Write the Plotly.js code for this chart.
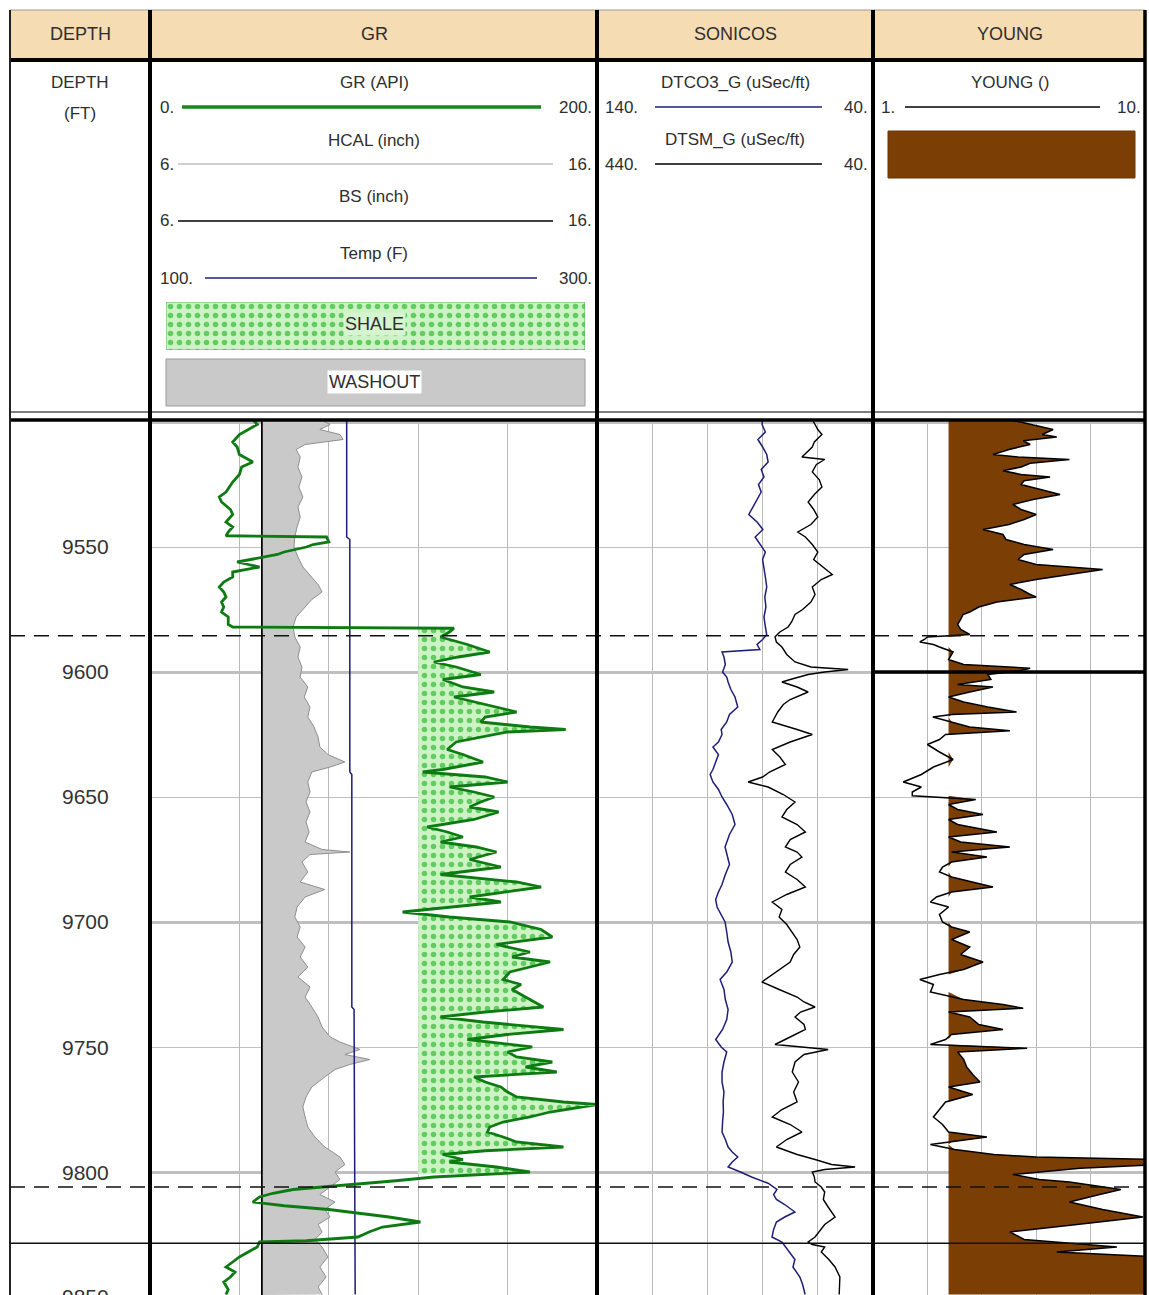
<!DOCTYPE html>
<html><head><meta charset="utf-8">
<script src="https://cdn.plot.ly/plotly-3.0.1.min.js"></script>
<style>html,body{margin:0;padding:0;background:#fff;}#chart{width:1149px;height:1295px;}</style>
</head><body><div id="chart"></div>
<script>
// ---------------- DATA ----------------
const DEPTH_RANGE = [9849.2, 9498.8];
const DEPTH_LABELS = [9550, 9600, 9650, 9700, 9750, 9800, 9850];
const ZONE_DASHED = [9585.5, 9806];
const ZONE_SOLID = [9828.5];
const SHALE_CUTOFF = 120;
const SHALE_ZONE = [9582.2, 9801];
const YOUNG_CUTOFF = 3.5;
const BIT_SIZE = 8.5;

const GR_LOG = [[9499,46],[9501,48],[9503,44],[9505,40],[9508,37],[9510,39],[9513,40],[9516,46],[9518,41],[9521,40],[9524,37],[9528,34],[9530,31],[9532,32],[9535,36],[9537,37],[9540,34],[9542,37],[9544,35],[9545.5,34],[9546,79],[9548,80],[9549,73],[9550,70],[9552,60],[9553,57],[9555,45],[9556,39],[9557,44],[9558,49],[9560,37],[9562,37],[9564,33],[9566,31],[9568,33],[9570,34],[9572,32],[9574,33],[9576,32],[9578,35],[9581,35],[9582,37],[9582.5,136],[9584,134],[9586,130],[9589,142],[9592,152],[9594,138],[9596,127],[9598,137],[9601,148],[9603,131],[9606,140],[9608,154],[9610,136],[9612,145],[9614,155],[9616,164],[9618,150],[9620,148],[9622,170],[9623,186],[9624,160],[9626,149],[9628,137],[9631,133],[9633,140],[9636,149],[9638,138],[9639,131],[9640,122],[9642,150],[9644,160],[9646,134],[9648,145],[9650,154],[9652,148],[9654,143],[9656,156],[9659,145],[9662,124],[9664,133],[9666,140],[9668,130],[9670,146],[9672,155],[9675,143],[9678,157],[9681,130],[9684,164],[9686,175],[9688,158],[9690,143],[9692,157],[9694,134],[9696,113],[9698,134],[9700,161],[9703,175],[9706,180],[9709,155],[9712,170],[9714,162],[9716,179],[9718,170],[9720,161],[9723,158],[9725,166],[9727,162],[9730,168],[9734,176],[9736,150],[9738,130],[9740,149],[9743,185],[9745,160],[9747,142],[9750,171],[9752,160],[9754,164],[9756,180],[9758,168],[9760,182],[9762,145],[9764,150],[9766,157],[9768,160],[9770,164],[9772,185],[9773,200],[9775,185],[9776,179],[9778,170],[9780,158],[9782,152],[9784,151],[9786,158],[9788,164],[9790,185],[9791.5,150],[9793,131],[9795,140],[9796,134],[9798,155],[9800,170],[9802,127],[9803.5,110],[9805,89],[9807,64],[9808.5,55],[9810,49],[9812,46],[9813.5,60],[9815,80],[9816.5,95],[9818,107],[9820,121],[9822,104],[9824,98],[9826,93],[9827.5,70],[9828,49],[9830,48],[9832,44],[9834,40],[9836,37],[9838,34],[9840,38],[9842,36],[9844,33],[9847,35],[9849,34]];

const HCAL_LOG = [[9499,9.80],[9501,10.03],[9503,9.80],[9505,10.25],[9507,10.32],[9509,9.47],[9511,9.27],[9514,9.36],[9518,9.31],[9522,9.40],[9526,9.33],[9530,9.42],[9534,9.31],[9538,9.36],[9542,9.29],[9546,9.24],[9550,9.22],[9554,9.31],[9558,9.42],[9562,9.62],[9565,9.76],[9568,9.85],[9571,9.62],[9574,9.47],[9578,9.27],[9582,9.20],[9586,9.24],[9590,9.36],[9594,9.31],[9598,9.40],[9602,9.36],[9606,9.53],[9610,9.45],[9614,9.58],[9618,9.53],[9622,9.67],[9626,9.76],[9630,9.80],[9633,9.98],[9636,10.36],[9638,10.03],[9640,9.62],[9644,9.53],[9648,9.58],[9652,9.49],[9656,9.58],[9660,9.49],[9664,9.56],[9668,9.47],[9671,9.85],[9672,10.47],[9673,9.58],[9676,9.40],[9680,9.53],[9684,9.36],[9687,9.91],[9690,9.47],[9694,9.29],[9698,9.24],[9702,9.36],[9706,9.29],[9710,9.47],[9714,9.36],[9718,9.53],[9722,9.31],[9726,9.58],[9730,9.47],[9734,9.62],[9738,9.76],[9742,9.85],[9746,10.03],[9748,10.25],[9751,10.70],[9753,10.36],[9755,10.92],[9757,10.47],[9759,10.14],[9762,9.91],[9766,9.62],[9770,9.49],[9774,9.42],[9778,9.47],[9782,9.53],[9786,9.69],[9790,9.91],[9794,10.25],[9797,10.36],[9800,10.14],[9803,10.25],[9806,10.03],[9809,9.80],[9812,10.14],[9815,9.91],[9818,10.03],[9821,9.76],[9824,9.85],[9827,9.69],[9830,9.85],[9834,9.98],[9838,9.80],[9842,9.94],[9846,9.76],[9849,9.85]];

const BS_LOG = [[9498.8,BIT_SIZE],[9849.2,BIT_SIZE]];

const TEMP_LOG = [[9499,188],[9546,188],[9547,189.4],[9640,189.4],[9641,190.3],[9734,190.3],[9735,191.3],[9849,191.8]];

const DTCO_LOG = [[9499,80],[9501,80.2],[9504,79],[9507,81.7],[9510,80],[9513,78.5],[9516,78],[9519,80.5],[9522,79.5],[9525,81.5],[9528,80.5],[9531,82],[9534,83.8],[9537,85],[9540,82],[9543,79.9],[9546,82.7],[9549,81],[9552,79],[9555,80],[9558,79.5],[9562,79],[9566,78.5],[9570,79.2],[9574,78.8],[9578,79.5],[9582,79],[9585,78.5],[9587,80],[9589,82],[9591,81],[9592,94.7],[9594,94],[9597,93.5],[9600,94.5],[9602,93],[9604,92.5],[9607,91.5],[9610,90],[9614,89],[9617,92],[9620,93],[9623,95],[9625,94.7],[9628,96],[9630,98],[9633,96],[9636,97],[9639,98],[9641,99],[9644,98],[9647,96],[9650,94.7],[9653,93],[9657,91],[9661,90],[9665,92],[9670,93.6],[9673,93],[9677,92],[9681,93.5],[9685,94.7],[9688,96],[9691,97],[9694,96.5],[9697,95],[9700,93.6],[9704,93],[9708,92.5],[9712,91.5],[9716,91],[9720,93],[9723,95.4],[9727,94],[9731,93.5],[9735,92.5],[9739,93],[9743,94.5],[9747,97],[9750,95],[9752,93],[9756,94],[9760,94.7],[9764,94.7],[9768,94],[9772,94.3],[9776,94.2],[9780,94.5],[9784,94.7],[9787,93.5],[9790,92.5],[9792,91],[9794,89],[9796,91],[9798,92.5],[9800,88],[9802,84],[9804.5,78],[9807,74.8],[9809,76],[9811,75],[9813,72],[9816,68.3],[9818,72],[9820,75],[9823,76],[9826,76.6],[9828,73],[9831,71],[9835,68.3],[9838,69],[9842,66.5],[9845,65.5],[9849,64.6]];

const DTSM_LOG = [[9499,128],[9501,124],[9503,120],[9505,114],[9508,125],[9510,128],[9512,135],[9514,143],[9515,110],[9517,122],[9520,128],[9523,118],[9526,114],[9529,125],[9532,134],[9535,126],[9538,120],[9541,130],[9544,149],[9546,138],[9549,128],[9552,120],[9555,126],[9558,112],[9561,99],[9563,115],[9566,128],[9569,124],[9572,130],[9575,142],[9577,153],[9580,158],[9582,163],[9584,175],[9586,182],[9588,180],[9590,172],[9593,165],[9596,153],[9598,130],[9599,76],[9600,110],[9601,134],[9603,160],[9604,172],[9606,150],[9608,134],[9611,160],[9613,170],[9616,178],[9620,186],[9623,150],[9625,128],[9628,160],[9631,186],[9634,175],[9637,167],[9640,190],[9642,200],[9644,221],[9646,192],[9649,170],[9652,153],[9655,165],[9658,172],[9661,150],[9664,138],[9667,160],[9670,167],[9672,150],[9674,143],[9677,160],[9680,167],[9683,150],[9686,138],[9689,165],[9692,186],[9695,172],[9698,176],[9701,165],[9704,157],[9707,150],[9710,146],[9713,155],[9716,160],[9719,175],[9722,190],[9724,201],[9727,176],[9730,150],[9732,140],[9734,124],[9736,145],[9738,153],[9741,140],[9743,138],[9746,160],[9749,182],[9751,105],[9753,140],[9756,153],[9760,157],[9764,148],[9768,155],[9772,150],[9775,172],[9778,186],[9781,160],[9784,143],[9787,165],[9790,180],[9793,150],[9795,124],[9797,100],[9798,66],[9799,110],[9800,128],[9802,125],[9804,124],[9806,115],[9808,110],[9811,112],[9814,105],[9818,95],[9821,110],[9824,118],[9826,124],[9828,134],[9829,128],[9830,110],[9832,115],[9835,104],[9838,95],[9842,88],[9846,88],[9849,89]];

const YOUNG_LOG = [[9499,5.5],[9500,5.86],[9502,6.5],[9503,6.96],[9505,6.6],[9506,7.08],[9507.5,5.97],[9509,6.2],[9511,5.5],[9513,4.97],[9514,5.8],[9515,7.5],[9516.5,6.2],[9518,5.9],[9519.5,5.3],[9521,5.9],[9522,6.86],[9523.5,6.0],[9525,5.9],[9527,6.5],[9529,7.19],[9531,6.3],[9533,5.63],[9535,5.9],[9537,6.4],[9539,6.0],[9541,5.5],[9543,4.64],[9545,5.3],[9547,5.4],[9549,6.0],[9551,6.96],[9553,6.0],[9555,5.8],[9557,6.4],[9559,8.6],[9561,7.5],[9563,6.4],[9565,5.53],[9567,5.9],[9569,6.2],[9570,6.4],[9572,5.1],[9574,4.5],[9576,4.2],[9577,3.98],[9579,3.9],[9581,3.8],[9583,3.9],[9585,4.2],[9586,2.8],[9587,2.7],[9588,2.55],[9589,3.0],[9590,3.2],[9592,3.65],[9595,3.5],[9597,4.0],[9598.5,6.2],[9599.5,5.86],[9601,4.8],[9603,4.9],[9605,3.8],[9606,4.97],[9608,4.2],[9610,3.5],[9612,4.0],[9614,4.8],[9616,5.75],[9617,3.6],[9618,2.98],[9620,3.6],[9622,4.2],[9623.5,5.53],[9625,3.4],[9627,3.2],[9629,2.8],[9632,3.2],[9635,3.65],[9638,3.0],[9641,2.6],[9643,2.2],[9644,2.0],[9646,2.6],[9648,2.3],[9649.5,2.3],[9651,4.4],[9653,3.5],[9655,3.8],[9657,4.64],[9659,3.5],[9661,3.8],[9664,5.1],[9666,3.5],[9668,3.9],[9670,5.53],[9672,3.6],[9674,4.77],[9676,3.6],[9678,3.3],[9680,3.2],[9682,3.6],[9686,4.97],[9688,3.6],[9690,3.1],[9692,2.9],[9694,3.5],[9697,3.2],[9700,3.3],[9702,3.6],[9704,4.2],[9707,3.6],[9710,4.2],[9713,3.9],[9716,4.64],[9719,4.0],[9721,3.2],[9723,2.55],[9725,3.0],[9728,2.9],[9731,4.0],[9733,5.3],[9734.5,5.97],[9736,3.5],[9738,4.2],[9741,4.5],[9743,5.3],[9745,3.6],[9747,3.4],[9749,2.9],[9750.5,6.1],[9752,3.8],[9755,4.0],[9758,4.1],[9761,4.3],[9764,4.54],[9766,3.5],[9769,4.3],[9772,3.4],[9775,3.2],[9778,3.0],[9781,3.3],[9784,3.5],[9786,4.77],[9788,3.6],[9789,2.9],[9791,3.7],[9793,5.0],[9794,6.4],[9795,10.5],[9797,10.5],[9798.5,7.85],[9801,5.63],[9803,6.5],[9804,7.5],[9807,9.2],[9809,8.5],[9812,7.5],[9815,8.6],[9818,9.93],[9821,7.75],[9824,5.53],[9827,6.0],[9829,8.0],[9830,9.07],[9832,7.08],[9834,10.5],[9849,10.5]];

// ---------------- HELPERS ----------------
const W = 1149, H = 1295;
const PX = v => v / W;
const PY = v => 1 - v / H;
const dep = a => a.map(p => p[0]);
const val = a => a.map(p => p[1]);
const FONT = 'Liberation Sans, Arial, sans-serif';
const TXT = '#2e2e2e';
const DATA_TOP = 419;

// ---------------- TRACES ----------------
const traces = [];
traces.push({type:'scatter', mode:'lines', x: val(BS_LOG), y: dep(BS_LOG), xaxis:'x', yaxis:'y', line:{color:'#000', width:1.5}, hoverinfo:'skip'});
traces.push({type:'scatter', mode:'lines', x: val(HCAL_LOG), y: dep(HCAL_LOG), xaxis:'x', yaxis:'y', fill:'tonextx', fillcolor:'#c9c9c9', line:{color:'#8f8f8f', width:1}, hoverinfo:'skip'});
traces.push({type:'scatter', mode:'lines', x: val(BS_LOG), y: dep(BS_LOG), xaxis:'x', yaxis:'y', line:{color:'#000', width:1.5}, hoverinfo:'skip'});
traces.push({type:'scatter', mode:'lines', x: val(TEMP_LOG), y: dep(TEMP_LOG), xaxis:'x2', yaxis:'y', line:{color:'#1c1c7a', width:1.5}, hoverinfo:'skip'});
const PATTERN = {shape:'.', bgcolor:'#cdf3c5', fgcolor:'#62cc62', size:9, solidity:0.3};
const shalePts = GR_LOG.filter(p => p[0] >= SHALE_ZONE[0] && p[0] <= SHALE_ZONE[1]);
traces.push({type:'scatter', mode:'lines', x:[SHALE_CUTOFF, SHALE_CUTOFF], y:[SHALE_ZONE[0], SHALE_ZONE[1]], xaxis:'x3', yaxis:'y', line:{width:0, color:'rgba(0,0,0,0)'}, hoverinfo:'skip'});
traces.push({type:'scatter', mode:'lines',
  x:[SHALE_CUTOFF, ...shalePts.map(p => Math.max(p[1], SHALE_CUTOFF)), SHALE_CUTOFF],
  y:[SHALE_ZONE[0], ...shalePts.map(p => p[0]), SHALE_ZONE[1]],
  xaxis:'x3', yaxis:'y', fill:'tonextx', fillcolor:'#cdf3c5', fillpattern:PATTERN,
  line:{width:0, color:'rgba(0,0,0,0)'}, hoverinfo:'skip'});
traces.push({type:'scatter', mode:'lines', x: val(GR_LOG), y: dep(GR_LOG), xaxis:'x3', yaxis:'y', line:{color:'#0d7a12', width:2.8}, hoverinfo:'skip'});
traces.push({type:'scatter', mode:'lines', x: val(DTCO_LOG), y: dep(DTCO_LOG), xaxis:'x4', yaxis:'y', line:{color:'#1e1e78', width:1.5}, hoverinfo:'skip'});
traces.push({type:'scatter', mode:'lines', x: val(DTSM_LOG), y: dep(DTSM_LOG), xaxis:'x5', yaxis:'y', line:{color:'#000', width:1.4}, hoverinfo:'skip'});
const yd = dep(YOUNG_LOG);
traces.push({type:'scatter', mode:'lines', x:[YOUNG_CUTOFF, YOUNG_CUTOFF], y:[yd[0], yd[yd.length-1]], xaxis:'x6', yaxis:'y', line:{width:0, color:'rgba(0,0,0,0)'}, hoverinfo:'skip'});
traces.push({type:'scatter', mode:'lines', x: YOUNG_LOG.map(p => Math.max(p[1], YOUNG_CUTOFF)), y: yd, xaxis:'x6', yaxis:'y', fill:'tonextx', fillcolor:'#7b3f05', line:{width:0, color:'rgba(0,0,0,0)'}, hoverinfo:'skip'});
traces.push({type:'scatter', mode:'lines', x: val(YOUNG_LOG), y: yd, xaxis:'x6', yaxis:'y', line:{color:'#000', width:1.5}, hoverinfo:'skip'});
traces.push({type:'scatter', mode:'lines', x:[0,1,1,0,0], y:[0,0,1,1,0], xaxis:'x7', yaxis:'y2', fill:'toself', fillcolor:'#cdf3c5', fillpattern:PATTERN,
  line:{color:'#5cb85c', width:1}, hoverinfo:'skip'});

// ---------------- LAYOUT ----------------
const GRID = '#b9b9b9';
const hidden = {visible:false, showgrid:false, zeroline:false, fixedrange:true};
const layout = {
  width: W, height: H, margin:{l:0, r:0, t:0, b:0},
  paper_bgcolor:'#fff', plot_bgcolor:'rgba(0,0,0,0)', showlegend:false, hovermode:false,
  font:{family:FONT, color:TXT},
  yaxis:{domain:[0, PY(DATA_TOP)], range:DEPTH_RANGE, anchor:'x', showticklabels:false, ticks:'', zeroline:false, showline:false,
    showgrid:true, tick0:9500, dtick:100, gridcolor:'#bfbfbf', gridwidth:3,
    minor:{tick0:9500, dtick:50, showgrid:true, gridcolor:'#bfbfbf', gridwidth:1}},
  xaxis:{domain:[PX(150), PX(597)], range:[6,16], anchor:'y', tick0:6, dtick:2, showgrid:true, gridcolor:GRID, gridwidth:1, showticklabels:false, ticks:'', zeroline:false, showline:false},
  xaxis2:Object.assign({}, hidden, {overlaying:'x', range:[100,300], anchor:'y'}),
  xaxis3:Object.assign({}, hidden, {overlaying:'x', range:[0,200], anchor:'y'}),
  xaxis4:{domain:[PX(597), PX(873)], range:[140,40], anchor:'y', tick0:40, dtick:20, showgrid:true, gridcolor:GRID, gridwidth:1, showticklabels:false, ticks:'', zeroline:false, showline:false},
  xaxis5:Object.assign({}, hidden, {overlaying:'x4', range:[440,40], anchor:'y'}),
  xaxis6:{domain:[PX(873), PX(1145)], range:[1,10], anchor:'y', tick0:1, dtick:1.8, showgrid:true, gridcolor:GRID, gridwidth:1, showticklabels:false, ticks:'', zeroline:false, showline:false},
  xaxis7:Object.assign({}, hidden, {domain:[PX(166), PX(585)], range:[0,1], anchor:'y2'}),
  yaxis2:Object.assign({}, hidden, {domain:[PY(350), PY(302)], range:[0,1], anchor:'x7'}),
  shapes:[], annotations:[]
};
const S = layout.shapes, A = layout.annotations;
const rect = (x0,y0,x1,y1,fill,line,lw,layer) => S.push({type:'rect', xref:'paper', yref:'paper', x0:PX(x0), x1:PX(x1), y0:PY(y1), y1:PY(y0), fillcolor:fill, line:{color:line||fill, width:lw||0}, layer:layer||'above'});
const hline = (x0,x1,y,color,w,dash) => S.push({type:'line', xref:'paper', yref:'paper', x0:PX(x0), x1:PX(x1), y0:PY(y), y1:PY(y), line:{color:color, width:w, dash:dash||'solid'}});
const vline = (x,y0,y1,color,w) => S.push({type:'line', xref:'paper', yref:'paper', x0:PX(x), x1:PX(x), y0:PY(y0), y1:PY(y1), line:{color:color, width:w}});
const txt = (t,x,y,size,anchor,bg) => A.push({text:t, xref:'paper', yref:'paper', x:PX(x), y:PY(y), xanchor:anchor||'center', yanchor:'middle', showarrow:false, font:{size:size||17, color:TXT, family:FONT}, bgcolor:bg||'rgba(0,0,0,0)', borderpad:1});

rect(10,10,1145,58,'#f5dcb3',null,0,'below');
hline(10,1145,10,'#9a9a9a',1);
hline(10,1145,60,'#000',4);
hline(10,1145,412,'#555',1.5);
hline(10,1145,420,'#000',3.5);
ZONE_DASHED.forEach(d => S.push({type:'line', xref:'paper', yref:'y', x0:PX(10), x1:PX(1145), y0:d, y1:d, line:{color:'#111', width:1.5, dash:'15px,9px'}}));
ZONE_SOLID.forEach(d => S.push({type:'line', xref:'paper', yref:'y', x0:PX(10), x1:PX(1145), y0:d, y1:d, line:{color:'#111', width:1.5}}));
S.push({type:'line', xref:'paper', yref:'y', x0:PX(873), x1:PX(1145), y0:9600, y1:9600, line:{color:'#000', width:3.5}});
vline(10,10,1295,'#222',2);
vline(150,10,1295,'#000',4);
vline(597,10,1295,'#000',4);
vline(873,10,1295,'#000',4);
vline(1145,10,1295,'#000',3.5);

txt('DEPTH',80,34,18); txt('GR',374,34,18); txt('SONICOS',735,34,18); txt('YOUNG',1010,34,18);
txt('DEPTH',80,82,17); txt('(FT)',80,114,17);
txt('GR (API)',374,82,17); hline(182,541,107,'#138a1a',3.5); txt('0.',158,107,17,'left'); txt('200.',594,107,17,'right');
txt('HCAL (inch)',374,140,17); hline(178,553,164,'#a0a0a0',1); txt('6.',158,164,17,'left'); txt('16.',594,164,17,'right');
txt('BS (inch)',374,197,17); hline(178,553,221,'#000',1.5); txt('6.',158,221,17,'left'); txt('16.',594,221,17,'right');
txt('Temp (F)',374,254,17); hline(205,537,278,'#1c1c7a',1.5); txt('100.',158,278,17,'left'); txt('300.',594,278,17,'right');
txt('SHALE',374,324,18,'center','#d6f5cf');
rect(166,359,585,406,'#c9c9c9','#9a9a9a',1);
txt('WASHOUT',374,382,18,'center','#ffffff');
txt('DTCO3_G (uSec/ft)',735,82,17); hline(655,822,107,'#1e1e78',1.5); txt('140.',603,107,17,'left'); txt('40.',870,107,17,'right');
txt('DTSM_G (uSec/ft)',735,139,17); hline(655,822,164,'#000',1.5); txt('440.',603,164,17,'left'); txt('40.',870,164,17,'right');
txt('YOUNG ()',1010,82,17); hline(905,1100,107,'#000',1.5); txt('1.',879,107,17,'left'); txt('10.',1143,107,17,'right');
rect(888,131,1135,178,'#7b3f05','#6a3604',1);

// depth labels (labels past the bottom of the range are pinned to the edge and shifted by the axis scale)
const pxPerFt = (H - DATA_TOP) / (DEPTH_RANGE[0] - DEPTH_RANGE[1]);
DEPTH_LABELS.forEach(d => {
  const yy = Math.min(d, DEPTH_RANGE[0]);
  A.push({text:String(d), xref:'paper', yref:'y', x:PX(85), y:yy, yshift:-(d - yy) * pxPerFt, xanchor:'center', yanchor:'middle', showarrow:false, font:{size:21, color:'#333', family:FONT}});
});

Plotly.newPlot('chart', traces, layout, {staticPlot:true, displayModeBar:false});
</script></body></html>
